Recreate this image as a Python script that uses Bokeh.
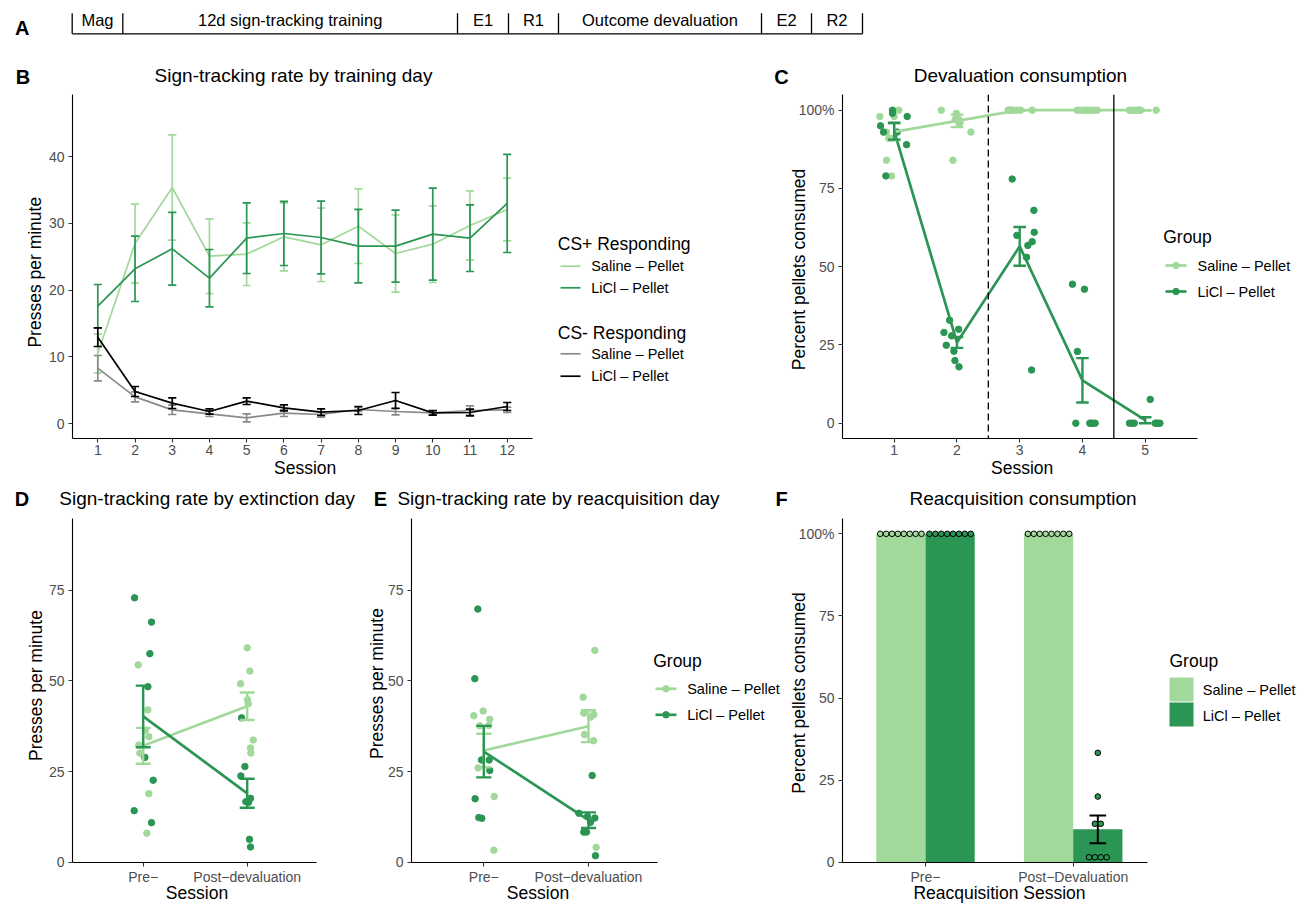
import math
from bokeh.plotting import figure
from bokeh.models import Range1d, Label, Span, FixedTicker, GridBox
from bokeh.layouts import column
from bokeh.embed import file_html
from bokeh.resources import INLINE

FONT = "Liberation Sans"
LIGHT = "#A1D99B"
DARK = "#2B9553"
GREY = "#8A8A8A"
INK = "#000000"
TICKTXT = "#4D4D4D"

# ---------------- data ----------------
tl_labels = ["Mag", "12d sign-tracking training", "E1", "R1", "Outcome devaluation", "E2", "R2"]
tl_edges_px = [71.7, 122.3, 457.0, 508.0, 558.0, 761.0, 811.0, 862.0]

b_sessions = [1, 2, 3, 4, 5, 6, 7, 8, 9, 10, 11, 12]
b_sal_plus = [10.5, 27.0, 35.4, 25.1, 25.4, 28.0, 26.8, 29.6, 25.5, 26.9, 29.7, 32.1]
b_sal_plus_se = [2.9, 5.9, 7.9, 5.6, 4.7, 5.1, 5.5, 5.6, 5.8, 5.75, 5.2, 4.7]
b_licl_plus = [17.6, 23.2, 26.2, 21.8, 27.8, 28.5, 27.9, 26.6, 26.6, 28.4, 27.8, 33.0]
b_licl_plus_se = [3.25, 4.9, 5.45, 4.3, 5.3, 4.8, 5.45, 5.5, 5.4, 6.9, 5.0, 7.35]
b_sal_minus = [8.3, 4.0, 2.05, 1.45, 0.85, 1.55, 1.35, 2.1, 1.8, 1.6, 1.95, 2.05]
b_sal_minus_se = [1.9, 0.75, 0.7, 0.4, 0.6, 0.5, 0.4, 0.3, 0.5, 0.3, 0.7, 0.4]
b_licl_minus = [12.95, 4.8, 3.05, 1.8, 3.35, 2.35, 1.7, 1.95, 3.45, 1.6, 1.65, 2.55]
b_licl_minus_se = [1.4, 0.75, 0.8, 0.4, 0.5, 0.45, 0.5, 0.6, 1.2, 0.35, 0.5, 0.6]

c_sessions = [1, 2, 3, 4, 5]
c_sal_mean = [93.1, 96.6, 100.0, 100.0, 100.0]
c_sal_se = [2.6, 2.0, 0.0, 0.0, 0.0]
c_licl_mean = [93.3, 25.8, 56.5, 13.7, 0.95]
c_licl_se = [2.7, 1.75, 6.2, 7.1, 0.95]
c_sal_pts = [[98, 100, 98, 84, 79, 91, 91, 93],
             [100, 84, 93, 97, 98, 97, 99, 96],
             [100, 100, 100, 100, 100, 100, 100, 100],
             [100, 100, 100, 100, 100, 100, 100, 100],
             [100, 100, 100, 100, 100, 100, 100, 100]]
c_sal_jit = [[-0.228, 0.074, 0.0, -0.122, -0.042, -0.085, -0.032, -0.122],
             [-0.25, -0.064, 0.223, -0.027, 0.0, 0.03, -0.01, 0.05],
             [-0.183, -0.130, 0.013, 0.199, -0.146, -0.093, -0.040, -0.157],
             [0.085, 0.234, -0.058, -0.005, 0.048, 0.127, 0.181, -0.085],
             [-0.250, -0.186, -0.117, -0.074, 0.175, -0.234, -0.154, -0.101]]
c_licl_pts = [[95, 100, 98, 93, 93, 89, 79, 99],
              [32.9, 29, 30, 27.9, 24.9, 23, 20, 18],
              [78, 68, 60, 61, 56.8, 58, 53, 17],
              [44.4, 42.8, 22.9, 0, 0, 0, 0, 0],
              [7.6, 0, 0, 0, 0, 0, 0, 0]]
c_licl_jit = [[-0.218, -0.027, 0.207, -0.170, 0.048, 0.197, -0.133, -0.027],
              [-0.117, -0.207, 0.027, -0.085, -0.170, -0.048, -0.032, 0.032],
              [-0.120, 0.226, -0.045, 0.231, 0.130, 0.199, 0.109, 0.189],
              [-0.159, 0.032, -0.080, -0.106, 0.117, 0.170, 0.202, 0.138],
              [0.080, -0.250, -0.175, 0.159, 0.202, 0.234, 0.181, -0.212]]

de_sessions = [1, 2]
de_labels = ["Pre\u2212", "Post\u2212devaluation"]

d_sal_pts = [[54.4, 42.0, 36.4, 34.6, 32.3, 30.1, 18.9, 8.0],
             [59.1, 52.7, 49.2, 44.8, 43.7, 33.7, 31.5, 30.1]]
d_sal_jit = [[-0.048, 0.045, 0.022, 0.054, -0.042, -0.032, 0.054, 0.035],
             [0.0, 0.026, -0.064, 0.003, 0.010, 0.058, 0.032, 0.035]]
d_licl_pts = [[72.9, 66.2, 57.5, 48.4, 28.9, 22.6, 14.2, 10.9],
              [39.8, 26.4, 23.8, 17.6, 16.7, 16.5, 6.3, 4.2]]
d_licl_jit = [[-0.083, 0.080, 0.064, 0.045, 0.016, 0.096, -0.087, 0.080],
              [-0.054, -0.022, -0.061, 0.032, -0.013, 0.013, 0.022, 0.032]]
d_sal_mean = [32.1, 43.0]
d_sal_se = [4.95, 3.8]
d_licl_mean = [40.2, 19.0]
d_licl_se = [8.5, 4.0]

e_sal_pts = [[40.4, 41.7, 37.6, 39.4, 37.7, 26.0, 18.1, 3.3],
             [58.4, 45.5, 40.7, 41.1, 40.0, 35.2, 33.5, 4.1]]
e_sal_jit = [[-0.096, -0.006, -0.038, 0.057, 0.048, -0.054, 0.099, 0.096],
             [0.061, -0.051, 0.051, -0.045, 0.019, -0.038, 0.048, 0.073]]
e_licl_pts = [[69.8, 50.6, 28.2, 28.2, 25.3, 17.5, 12.3, 12.1],
              [23.9, 13.5, 12.6, 12.2, 11.0, 8.3, 8.3, 1.8]]
e_licl_jit = [[-0.057, -0.086, -0.022, 0.051, 0.057, -0.083, -0.048, -0.019],
              [0.035, -0.092, -0.010, 0.061, 0.019, -0.045, -0.019, 0.067]]
e_sal_mean = [30.8, 37.5]
e_sal_se = [4.6, 4.4]
e_licl_mean = [30.5, 11.6]
e_licl_se = [7.1, 2.15]

f_sessions = [1, 2]
f_labels = ["Pre\u2212", "Post\u2212Devaluation"]
f_sal_mean = [100.0, 100.0]
f_sal_se = [0.0, 0.0]
f_licl_mean = [100.0, 10.0]
f_licl_se = [0.0, 4.2]
f_sal_pts = [[100, 100, 100, 100, 100, 100, 100, 100],
             [100, 100, 100, 100, 100, 100, 100, 100]]
f_licl_pts = [[100, 100, 100, 100, 100, 100, 100, 100],
              [33.3, 20.0, 11.7, 11.7, 1.5, 1.5, 1.5, 1.5]]

group_labels = ["Saline \u2013 Pellet", "LiCl \u2013 Pellet"]

PAGE_W, PAGE_H = 1304, 904


# ---------------- helpers ----------------
def make_fig(x0, y0, w, h, L, R, T, B, xa, ya):
    (xv1, xp1), (xv2, xp2) = xa
    kx = (xp2 - xp1) / (xv2 - xv1)
    xs = xv1 - (xp1 - L) / kx
    xe = xv1 + (R - xp1) / kx
    (yv1, yp1), (yv2, yp2) = ya
    ky = (yp1 - yp2) / (yv2 - yv1)
    ys = yv1 - (B - yp1) / ky
    ye = yv1 + (yp1 - T) / ky
    p = figure(width=w, height=h, x_range=Range1d(xs, xe), y_range=Range1d(ys, ye),
               min_border_left=L - x0, min_border_right=x0 + w - R,
               min_border_top=T - y0, min_border_bottom=y0 + h - B,
               output_backend="svg", toolbar_location=None,
               outline_line_color=None, background_fill_color="white",
               border_fill_color="white")
    p.xgrid.visible = False
    p.ygrid.visible = False
    ax = p.axis
    ax.axis_line_color = "black"
    ax.axis_line_width = 1.1
    ax.major_tick_line_color = "#333333"
    ax.major_tick_line_width = 1.1
    ax.major_tick_in = 0
    ax.major_tick_out = 4
    ax.minor_tick_line_color = None
    ax.major_label_text_font = FONT
    ax.major_label_text_font_size = "14px"
    ax.major_label_text_color = TICKTXT
    p.xaxis.major_label_standoff = 2
    p.yaxis.major_label_standoff = 4
    return p


def errbars(p, xs, m, se, color, cap, lw):
    lo = [a - b for a, b in zip(m, se)]
    hi = [a + b for a, b in zip(m, se)]
    xl = [x - cap / 2 for x in xs]
    xr = [x + cap / 2 for x in xs]
    p.segment(x0=xs, y0=lo, x1=xs, y1=hi, line_color=color, line_width=lw)
    p.segment(x0=xl, y0=lo, x1=xr, y1=lo, line_color=color, line_width=lw)
    p.segment(x0=xl, y0=hi, x1=xr, y1=hi, line_color=color, line_width=lw)


def jitter_pts(p, sessions, pts, jit, color, size):
    xs, ys = [], []
    for s, vals, js in zip(sessions, pts, jit):
        for v, j in zip(vals, js):
            xs.append(s + j)
            ys.append(v)
    p.scatter(x=xs, y=ys, size=size, fill_color=color, line_color=color, marker="circle")


# ---------------- overlay for all free text / legend keys (page pixel coords) ----------------
pO = figure(width=PAGE_W, height=PAGE_H, x_range=Range1d(0, PAGE_W), y_range=Range1d(PAGE_H, 0),
            min_border_left=0, min_border_right=0, min_border_top=0, min_border_bottom=0,
            x_axis_location=None, y_axis_location=None, output_backend="svg",
            toolbar_location=None, outline_line_color=None,
            background_fill_alpha=0, border_fill_alpha=0)
pO.grid.visible = False


def txt(sx, sy, text, size, align="center", angle=0.0, bold=False, color="black"):
    pO.add_layout(Label(x=sx, y=sy, text=text, text_font=FONT, text_font_size=f"{size}px",
                        text_color=color, text_align=align, text_baseline="middle",
                        angle=angle, text_font_style="bold" if bold else "normal"))


# ---------------- A: timeline ----------------
pA = figure(width=PAGE_W, height=48, x_range=Range1d(0, PAGE_W), y_range=Range1d(48, 0),
            min_border_left=0, min_border_right=0, min_border_top=0, min_border_bottom=0,
            x_axis_location=None, y_axis_location=None, output_backend="svg",
            toolbar_location=None, outline_line_color=None)
pA.grid.visible = False
pA.segment(x0=[tl_edges_px[0]], y0=[33.3], x1=[tl_edges_px[-1]], y1=[33.3], line_color="black", line_width=1.3)
pA.segment(x0=tl_edges_px, y0=[12.7] * len(tl_edges_px), x1=tl_edges_px, y1=[33.3] * len(tl_edges_px),
           line_color="black", line_width=1.3)
for i, t in enumerate(tl_labels):
    txt((tl_edges_px[i] + tl_edges_px[i + 1]) / 2, 19.5, t, 16.5)
txt(21.7, 27, "A", 20, bold=True)

# ---------------- B ----------------
pB = make_fig(0, 48, 780, 434, 72, 532, 94, 438, ((1, 97.3), (12, 506.7)), ((0, 423.0), (40, 156.3)))
pB.xaxis.ticker = FixedTicker(ticks=b_sessions)
pB.yaxis.ticker = FixedTicker(ticks=[0, 10, 20, 30, 40])
for m, se, col in [(b_sal_plus, b_sal_plus_se, LIGHT), (b_licl_plus, b_licl_plus_se, DARK),
                   (b_sal_minus, b_sal_minus_se, GREY), (b_licl_minus, b_licl_minus_se, INK)]:
    pB.line(x=b_sessions, y=m, line_color=col, line_width=1.7)
    errbars(pB, b_sessions, m, se, col, 0.22, 1.7)
for ky, col in [(265.7, LIGHT), (287.3, DARK), (353.3, GREY), (375.7, INK)]:
    pO.line(x=[560, 580], y=[ky, ky], line_color=col, line_width=1.7)
txt(557.3, 243.8, "CS+ Responding", 17.5, align="left")
txt(590.7, 265.7, group_labels[0], 14.5, align="left")
txt(590.7, 287.3, group_labels[1], 14.5, align="left")
txt(557.3, 332.8, "CS- Responding", 17.5, align="left")
txt(590.7, 353.3, group_labels[0], 14.5, align="left")
txt(590.7, 375.7, group_labels[1], 14.5, align="left")
txt(293, 74.5, "Sign-tracking rate by training day", 19)
txt(22.5, 76.7, "B", 20, bold=True)
txt(34.5, 271.7, "Presses per minute", 17.5, angle=math.pi / 2)
txt(304.7, 467.5, "Session", 17.5)

# ---------------- C ----------------
pC = make_fig(780, 48, 524, 434, 842, 1197, 94, 438, ((1, 893.7), (5, 1144.7)), ((0, 422.7), (100, 109.7)))
pC.xaxis.ticker = FixedTicker(ticks=c_sessions)
pC.yaxis.ticker = FixedTicker(ticks=[0, 25, 50, 75, 100])
pC.yaxis.major_label_overrides = {100: "100%"}
pC.add_layout(Span(location=2.5, dimension="height", line_color="black", line_width=1.3, line_dash="7 4"))
pC.add_layout(Span(location=4.5, dimension="height", line_color="black", line_width=1.3))
jitter_pts(pC, c_sessions, c_sal_pts, c_sal_jit, LIGHT, 6.5)
jitter_pts(pC, c_sessions, c_licl_pts, c_licl_jit, DARK, 6.5)
pC.line(x=c_sessions, y=c_sal_mean, line_color=LIGHT, line_width=2.7)
pC.line(x=c_sessions, y=c_licl_mean, line_color=DARK, line_width=2.7)
errbars(pC, c_sessions, c_sal_mean, c_sal_se, LIGHT, 0.2, 2.4)
errbars(pC, c_sessions, c_licl_mean, c_licl_se, DARK, 0.2, 2.4)
for ky, col in [(265, LIGHT), (291, DARK)]:
    pO.line(x=[1165, 1186], y=[ky, ky], line_color=col, line_width=2.7)
    pO.scatter(x=[1175.5], y=[ky], size=6.5, fill_color=col, line_color=col)
txt(1162.7, 236.7, "Group", 17.5, align="left")
txt(1197, 265, group_labels[0], 14.5, align="left")
txt(1197, 291, group_labels[1], 14.5, align="left")
txt(1020, 74.5, "Devaluation consumption", 19)
txt(781, 76.7, "C", 20, bold=True)
txt(798, 269, "Percent pellets consumed", 17.5, angle=math.pi / 2)
txt(1021.7, 467.5, "Session", 17.5)

# ---------------- D ----------------
pD = make_fig(0, 482, 362, 422, 72, 316, 518, 862, ((1, 142.7), (2, 246.7)), ((0, 861.7), (75, 589.7)))
pD.xaxis.ticker = FixedTicker(ticks=de_sessions)
pD.xaxis.major_label_overrides = {1: de_labels[0], 2: de_labels[1]}
pD.yaxis.ticker = FixedTicker(ticks=[0, 25, 50, 75])
jitter_pts(pD, de_sessions, d_sal_pts, d_sal_jit, LIGHT, 6.5)
jitter_pts(pD, de_sessions, d_licl_pts, d_licl_jit, DARK, 6.5)
pD.line(x=de_sessions, y=d_sal_mean, line_color=LIGHT, line_width=2.7)
pD.line(x=de_sessions, y=d_licl_mean, line_color=DARK, line_width=2.7)
errbars(pD, de_sessions, d_sal_mean, d_sal_se, LIGHT, 0.144, 2.4)
errbars(pD, de_sessions, d_licl_mean, d_licl_se, DARK, 0.144, 2.4)
txt(206.7, 498.3, "Sign-tracking rate by extinction day", 19)
txt(21.5, 498.3, "D", 20, bold=True)
txt(35.5, 685, "Presses per minute", 17.5, angle=math.pi / 2)
txt(196.5, 892.5, "Session", 17.5)

# ---------------- E ----------------
pE = make_fig(362, 482, 418, 422, 411, 657, 518, 862, ((1, 483.3), (2, 588.0)), ((0, 861.7), (75, 589.7)))
pE.xaxis.ticker = FixedTicker(ticks=de_sessions)
pE.xaxis.major_label_overrides = {1: de_labels[0], 2: de_labels[1]}
pE.yaxis.ticker = FixedTicker(ticks=[0, 25, 50, 75])
jitter_pts(pE, de_sessions, e_sal_pts, e_sal_jit, LIGHT, 6.5)
jitter_pts(pE, de_sessions, e_licl_pts, e_licl_jit, DARK, 6.5)
pE.line(x=de_sessions, y=e_sal_mean, line_color=LIGHT, line_width=2.7)
pE.line(x=de_sessions, y=e_licl_mean, line_color=DARK, line_width=2.7)
errbars(pE, de_sessions, e_sal_mean, e_sal_se, LIGHT, 0.144, 2.4)
errbars(pE, de_sessions, e_licl_mean, e_licl_se, DARK, 0.144, 2.4)
for ky, col in [(688.3, LIGHT), (714.3, DARK)]:
    pO.line(x=[655, 676], y=[ky, ky], line_color=col, line_width=2.7)
    pO.scatter(x=[665.5], y=[ky], size=6.5, fill_color=col, line_color=col)
txt(652.7, 660.3, "Group", 17.5, align="left")
txt(686.7, 688.3, group_labels[0], 14.5, align="left")
txt(686.7, 714.3, group_labels[1], 14.5, align="left")
txt(558, 498.3, "Sign-tracking rate by reacquisition day", 19)
txt(380, 498.3, "E", 20, bold=True)
txt(376, 683, "Presses per minute", 17.5, angle=math.pi / 2)
txt(537.5, 892.5, "Session", 17.5)

# ---------------- F ----------------
pF = make_fig(780, 482, 524, 422, 842, 1147, 518, 862, ((1, 925.0), (2, 1072.7)), ((0, 861.7), (100, 533.3)))
pF.xaxis.ticker = FixedTicker(ticks=f_sessions)
pF.xaxis.major_label_overrides = {1: f_labels[0], 2: f_labels[1]}
pF.yaxis.ticker = FixedTicker(ticks=[0, 25, 50, 75, 100])
pF.yaxis.major_label_overrides = {100: "100%"}
BW = 1 / 3
pF.vbar(x=[s - BW / 2 for s in f_sessions], top=f_sal_mean, bottom=0, width=BW, fill_color=LIGHT, line_color=None)
pF.vbar(x=[s + BW / 2 for s in f_sessions], top=f_licl_mean, bottom=0, width=BW, fill_color=DARK, line_color=None)
ex = [s + BW / 2 for s, e in zip(f_sessions, f_licl_se) if e > 0]
em = [m for m, e in zip(f_licl_mean, f_licl_se) if e > 0]
es = [e for e in f_licl_se if e > 0]
errbars(pF, ex, em, es, "black", 0.113, 2.0)
DOT_D = 5.9 / 147.7  # dot diameter in x data units


def dotstack(p, centers, pts, color):
    xs, ys = [], []
    for c, vals in zip(centers, pts):
        groups = {}
        for v in vals:
            groups.setdefault(v, []).append(v)
        for v, g in groups.items():
            n = len(g)
            for i in range(n):
                xs.append(c + (i - (n - 1) / 2) * DOT_D)
                ys.append(v)
    p.scatter(x=xs, y=ys, size=5.6, fill_color=color, line_color="black", line_width=1.0)


dotstack(pF, [s - BW / 2 for s in f_sessions], f_sal_pts, LIGHT)
dotstack(pF, [s + BW / 2 for s in f_sessions], f_licl_pts, DARK)
pO.quad(left=[1169, 1169], right=[1193, 1193], top=[677, 702], bottom=[701, 726],
        fill_color=[LIGHT, DARK], line_color=None)
txt(1169, 660.3, "Group", 17.5, align="left")
txt(1202.3, 689.3, group_labels[0], 14.5, align="left")
txt(1202.3, 715, group_labels[1], 14.5, align="left")
txt(1022.5, 498.3, "Reacquisition consumption", 19)
txt(781, 498.3, "F", 20, bold=True)
txt(798, 692.5, "Percent pellets consumed", 17.5, angle=math.pi / 2)
txt(999, 892.5, "Reacquisition Session", 17.5)

# wrap every plot in its own column so the grid does not align their frames
layout = GridBox(children=[
    (column(pA), 0, 0, 1, 3),
    (column(pB), 1, 0, 1, 2),
    (column(pC), 1, 2, 1, 1),
    (column(pD), 2, 0, 1, 1),
    (column(pE), 2, 1, 1, 1),
    (column(pF), 2, 2, 1, 1),
    (column(pO), 0, 0, 3, 3),
], spacing=0)
open("out.html", "w").write(file_html(layout, INLINE))
